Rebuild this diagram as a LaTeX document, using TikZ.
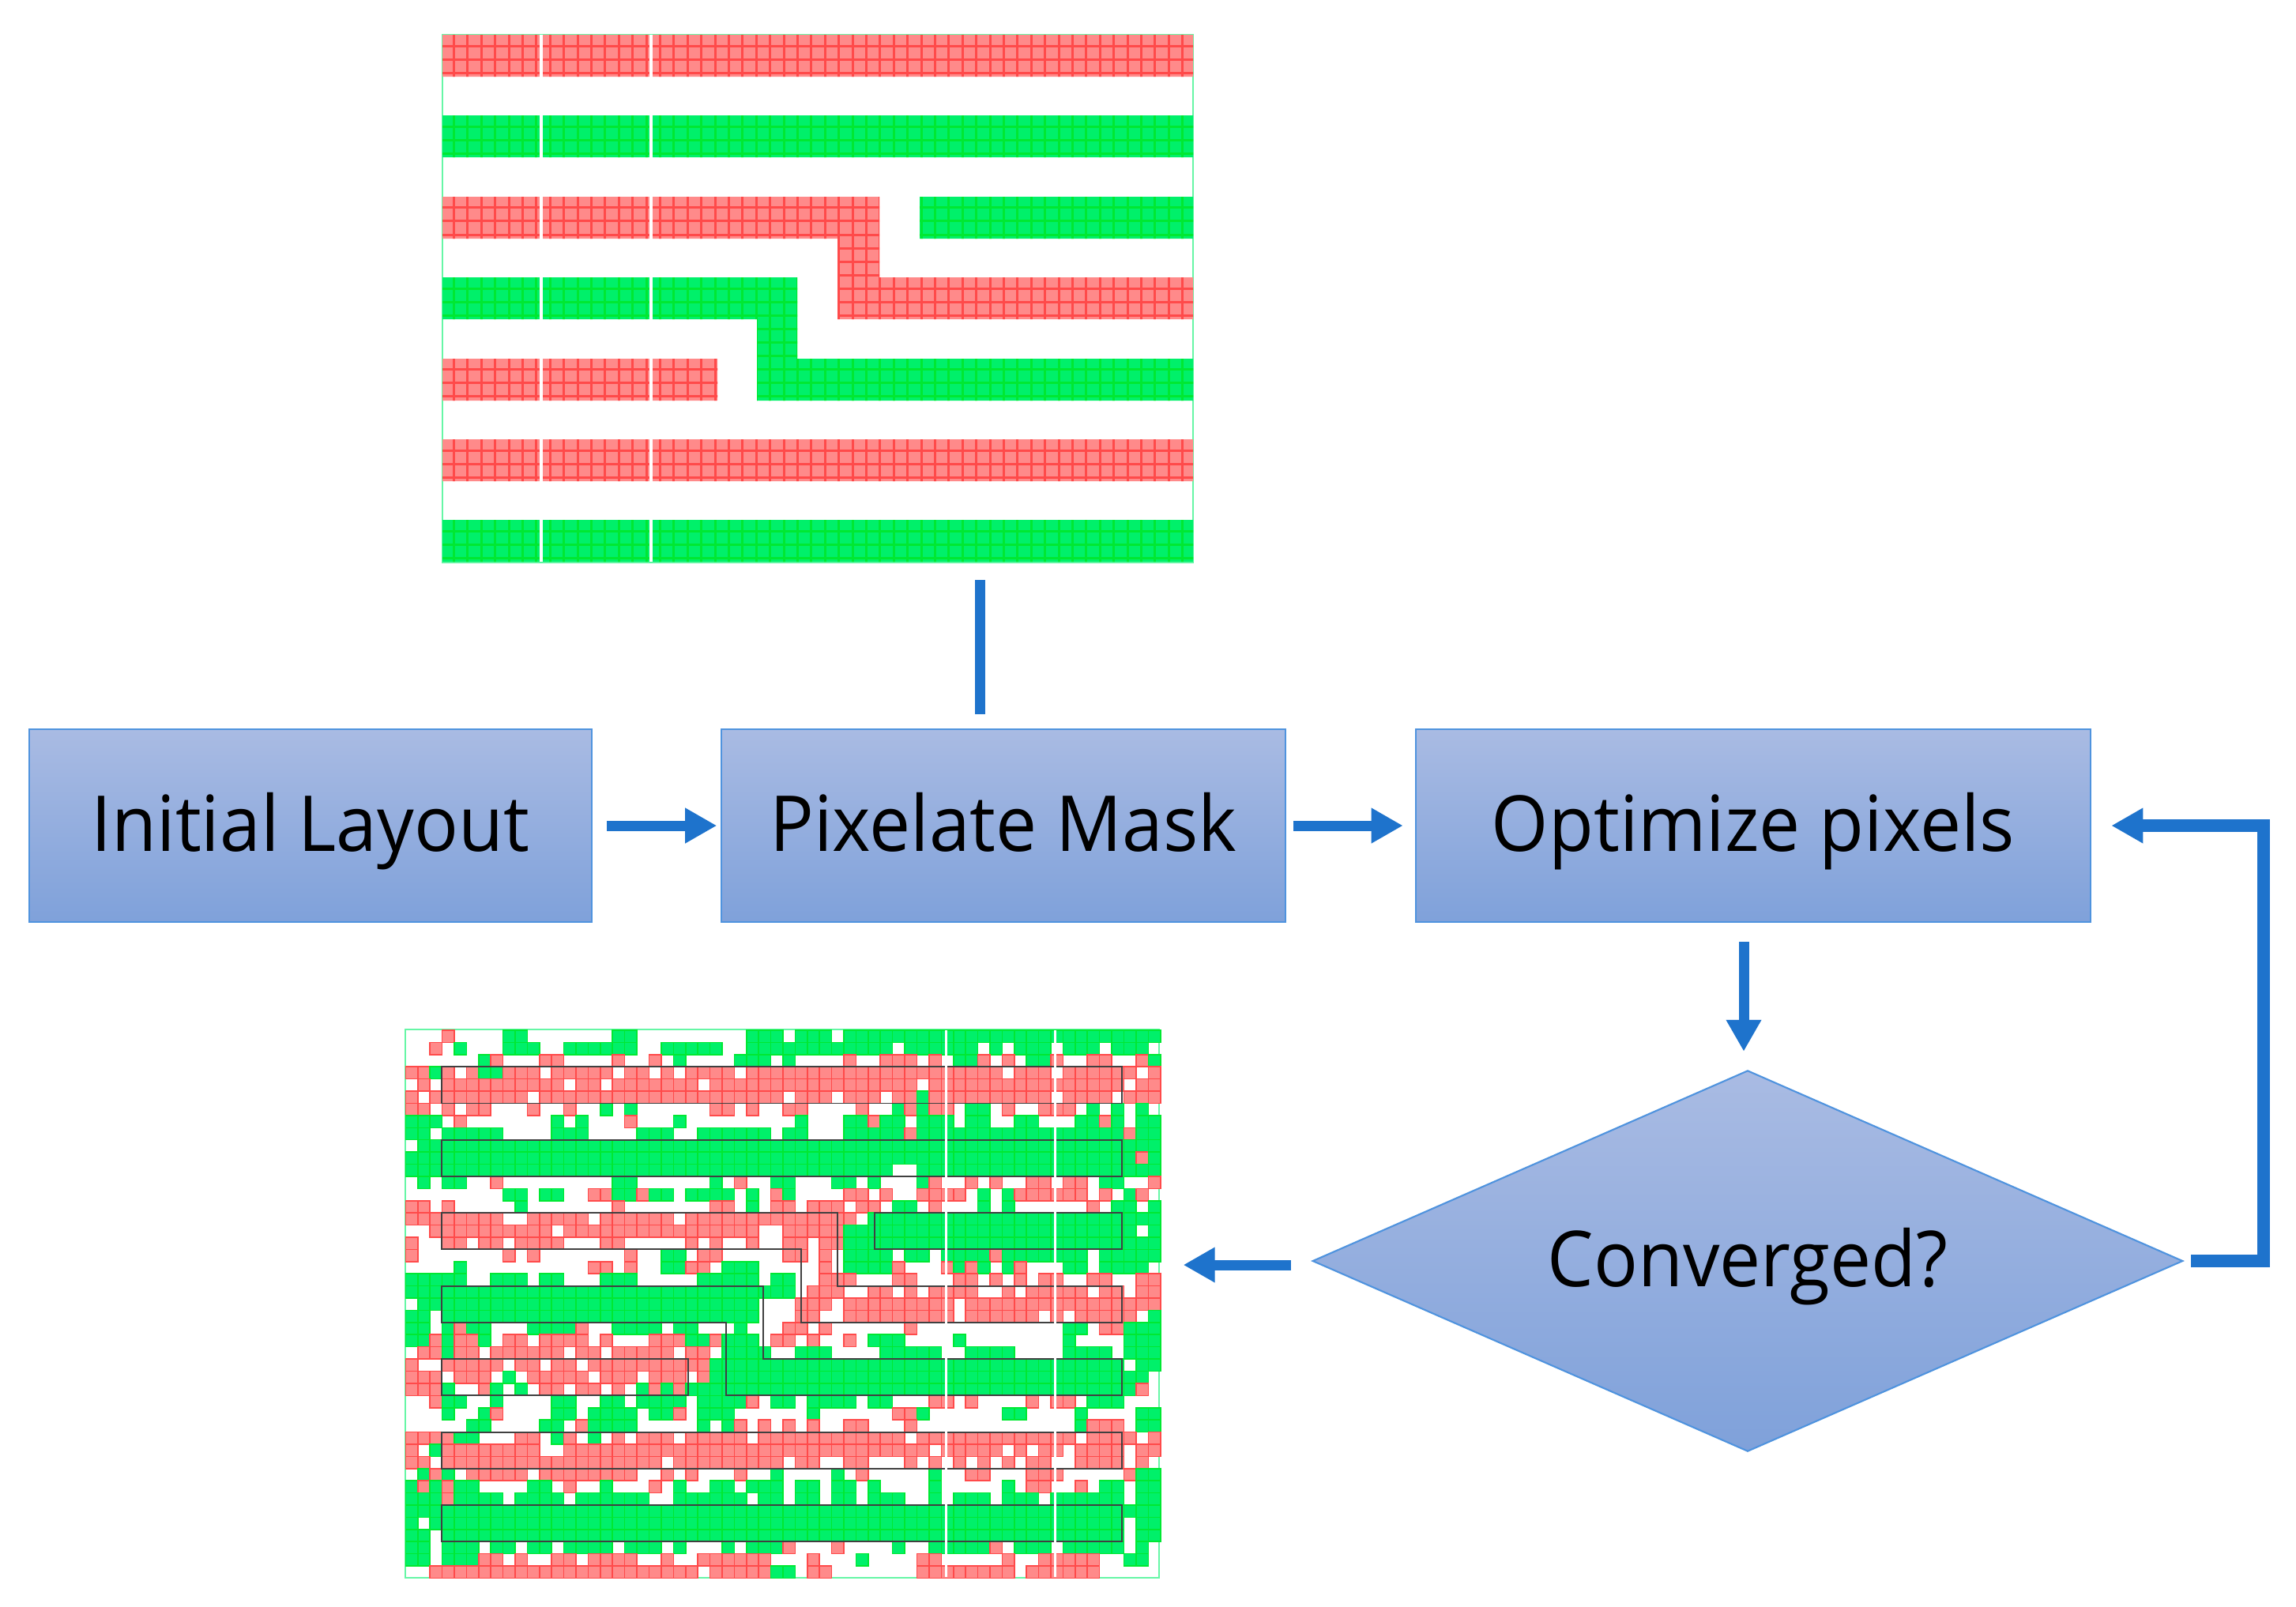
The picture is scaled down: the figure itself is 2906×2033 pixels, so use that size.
\documentclass[tikz,border=0pt]{standalone}
\usepackage{fontspec}
\setmainfont{Open Sans}[FakeStretch=0.95]
\usetikzlibrary{arrows.meta,shapes.geometric}

\definecolor{boxtop}{HTML}{A9BBE3}
\definecolor{boxbottom}{HTML}{7FA1DA}
\definecolor{boxedge}{HTML}{4F93DE}
\definecolor{flowblue}{HTML}{1E73CC}
\definecolor{cellred}{HTML}{FF8A8A}
\definecolor{linered}{HTML}{FF4A4A}
\definecolor{cellgreen}{HTML}{00F06A}
\definecolor{linegreen}{HTML}{00E832}

\tikzset{
  stagebox/.style={draw=boxedge, line width=0.6pt, top color=boxtop, bottom color=boxbottom, inner sep=0pt, text height=0.84cm, text depth=0.2cm, font=\fontsize{27.8}{30}\selectfont},
  flowline/.style={draw=flowblue, line width=0.13cm},
  flowarrow/.style={flowline, -{Triangle[length=0.4cm,width=0.42cm]}},
  imageframe/.style={draw=cellgreen!60, line width=0.5pt, inner sep=0pt},
  redcell/.style={fill=cellred, draw=linered, line width=0.45pt},
  greencell/.style={fill=cellgreen, draw=linegreen, line width=0.45pt},
  wireoutline/.style={draw=black!75, line width=0.55pt}
}

\newcount\cellcol
\def\scanpixel#1{%
  \ifx#1;\let\nextpixel\relax\else
    \ifx#1r\path[redcell] (\the\cellcol,\rowindex) rectangle ++(1,1);\fi
    \ifx#1g\path[greencell] (\the\cellcol,\rowindex) rectangle ++(1,1);\fi
    \advance\cellcol by 1
    \let\nextpixel\scanpixel
  \fi\nextpixel}

\def\redwires{(560,44) rectangle (1510,97) (560,249) rectangle (1113,302) (1060,249) rectangle (1113,404) (1060,351) rectangle (1510,404) (560,454) rectangle (908,507) (560,556) rectangle (1510,609)}
\def\greenwires{(560,146) rectangle (1510,199) (1164,249) rectangle (1510,302) (560,351) rectangle (1009,404) (958,351) rectangle (1009,507) (958,454) rectangle (1510,507) (560,658) rectangle (1510,711)}
\def\maskgrid#1{%
  \foreach \gx in {0,...,54} \draw[#1, line width=0.03cm] ({557+17.4*\gx},40) -- ++(0,680);
  \foreach \gy in {0,...,39} \draw[#1, line width=0.03cm] (557,{41+17.07*\gy}) -- ++(960,0);}

\begin{document}
\begin{tikzpicture}[x=0.01cm,y=-0.01cm]
    \useasboundingbox (0,0) rectangle (2906,2033);

    \node[imageframe, minimum width=9.5cm, minimum height=6.68cm] (maskimg) at (1035,378) {};
    \begin{scope}
      \clip \redwires;
      \fill[cellred] (556,40) rectangle (1514,715);
      \maskgrid{linered}
    \end{scope}
    \begin{scope}
      \clip \greenwires;
      \fill[cellgreen] (556,40) rectangle (1514,715);
      \maskgrid{linegreen}
    \end{scope}
    \draw[white, line width=0.04cm] (685,44) -- (685,711);
    \draw[white, line width=0.04cm] (824,44) -- (824,711);

    \node[stagebox, minimum width=7.12cm, minimum height=2.44cm] (initial) at (393,1045) {Initial Layout};
    \node[stagebox, minimum width=7.13cm, minimum height=2.44cm] (pixelate) at (1270,1045) {Pixelate Mask};
    \node[stagebox, minimum width=8.54cm, minimum height=2.44cm] (optimize) at (2219,1045) {Optimize pixels};
    \node[stagebox, shape=diamond, shape aspect=2.284, minimum width=11.01cm, minimum height=4.82cm] (converged) at (2212,1596) {Converged?};

    \node[imageframe, minimum width=9.53cm, minimum height=6.93cm] (resultimg) at (990,1650) {};
    \begin{scope}[shift={(513.3,1304)},x=0.154cm,y=-0.154cm]
      \foreach \rowleft/\rowright [count=\rowcount] in {
        {...r....gg.......gg.........ggg}/{.ggg.gggggggggggggggggggggggggg},
        {..r.g...ggg..gggggg..ggggg..ggg}/{ggggggggg.gggggg.g.ggg.ggg.ggg.},
        {......gr...rr....r..r.g....ggg.}/{g....r..rrr.r.ggr.r.ggr..rr..rg},
        {rrgr.rggrrr.rrrrr.rr.r.rrrr.rrr}/{rrrrrrrrrrrrrrrrrr.rrr.rrrrrr.r},
        {.r.rrrrrrrrrr.rr.rrrrrrr.rrrrrr}/{rrrrrrrrrrr.rrrrrrrrrrrrrrrr.rr},
        {r.rrrrrrrr.rrrrrrrrrrrrrrrrrrrr}/{.rrr.rrr.rrgrrrrrrrrrr.rrrr.rrr},
        {rr.r.rr...r..r..g.g......rr.r..}/{rr....r..grgrr.gg.r..rrr.g.g.g.},
        {ggg.r.......g.g...r...g........}/{.g...ggrgg.ggg.gg..gg...ggrg.gg},
        {gg.ggggg....ggg....ggg..gggggg.}/{gg...gggggrgggggggggggggggggrgg},
        {.gggggggggggggggggggggggggggggg}/{ggggggggggggggggggggggggggggggg},
        {ggggggggggggggggggggggggggggggg}/{gggggggggggggggggggggggggggggrg},
        {ggggggggggggggggggggggggggggggg}/{ggggggggg..gggggggggggggggggggg},
        {.g.gg..r.........gg......g.r..g}/{g...gg.g...gr..r.r..rr.rr.gg..r},
        {........gg.gg..rrggrgg.gggg.g.r}/{g....rr.r..rrrr.g.grrrrrr.r.gr.},
        {rr.r.....g.......r.......rr.g.r}/{r.rrr.rr.gg.r...g.g......r.gg.g},
        {rrrrrrrr..rrrrr.rrrrrr.rrrrrrrr}/{rrrrrr.gggggggggggggggggggggggg},
        {..rrrrrrrrrr.rrrrrrrrrrrrrrrr..}/{rrrrrgggggggggggggggggggggggg.g},
        {r..rr.rr.rrrr...rr.....r.r..r..}/{rr.rrgggggggggggggggggggggggggg},
        {r.......r.r.......r..gg.rr.....}/{rr.r.gggg.gg.ggggrggggggg.ggggg},
        {....g..........rr.r..ggrr.ggg..}/{...r.ggggr...rgrg.gr...gg.gggg.},
        {ggggg..ggg.gg...ggg.....ggggg.g}/{g..rrr...rr...rr.r.r.rr..rr..rr},
        {ggggggggggggggggggggggggggggggg}/{g.rrr..rr.r.rrrr..r.rrrrr.rr.rr},
        {.gggggggggggggggggggggggggggg..}/{.rrr.rrrrrrrrr.rrrrrrrrrrrrrrrr},
        {gg.gggggggggggggggggggggggggg..}/{.rr..rrrrrrrrr.rrrrrr.r.rrrrr.g},
        {gg.grgg...ggggr..gggg.gg...g...}/{rr.r......r............gg.rrggg},
        {ggrgrrg.rr.rrrr.r...rrrggrggg.r}/{r.r..r.ggg....g........g....ggg},
        {.rrgrr.rrrrrr.rr.rrrrr.rr.gggg.}/{.ggg....ggggg..gggg....gggg.ggg},
        {r..rrrrr.rr.rr.rrrrrrrrrrgggggg}/{gggggggggggggggggggggggggggg.gg},
        {rrr.rrr.g.rrrrr.rrr.rrr.rgggggg}/{gggggggggggggggggggggggggggggg.},
        {rrrg..rg.g.rr.rr.r.grgrgggggggg}/{gggggggggggggggggggggggggggggr.},
        {..rgg..g....gg..gg.gggg.ggggr.g}/{g.gggg.gg...rr.r....r.rr.ggg...},
        {...g..gr....gg.gggg.ggr.ggg....}/{..g......rrg......gg....g....gg},
        {.....gg....gg.rgggg.....g.gr.r.}/{r.r..rr...r.............grrr.gg},
        {rrrrgg...rr.gr.g.r.rrr.rrrrr.rr}/{rrrrrrrrrr.rrrrrrrrrrrrr.rrrr.r},
        {r.grrrrrrrr..rrrrrrrrrrrrrrrrrr}/{rrrrrrrrrrrr.rrrrr.r.rr.rrrr.rr},
        {rr.rrrrrrrrrrrrrrrrrr.rrrrrrrrr}/{.rr..rr...r.r.r.r.r.rr..rrrr.r.},
        {.grg.rrrrr.rrrrrrrr..r.r...r..g}/{....g.r.....g..rr...rrr.....rgg},
        {grgrgg....gg.r..g...r.g..gg.ggg}/{.gg.gg.g....g.....g.rr..r.gg.gg},
        {gggrgggg.gggg.gggggg..gggggg.gg}/{.gg.gg.ggg..g.ggg.ggg.gggggg.gg},
        {ggggggggggggggggggggggggggggggg}/{ggggggggggggggggggggggggggggggg},
        {g.ggggggggggggggggggggggggggggg}/{gggggggggggggggggggggggggggg.gg},
        {gg.gggggggggggggggggggggggggggg}/{gggggggggggggggggggggggggggg.gg},
        {gg.ggg.gg.gg.gggg.ggg.g...g.ggg}/{r...r....g..gggggr.ggg.ggggg.g.},
        {gg.gggrr.r..rr.rrrr..r..rrrrrr.}/{..r...g....rr.....r..rrrrr..gg.},
        {..rrrrrrrrrrrrrrrrrrrrrr.rrrrrg}/{g.rr.......rrrrrrrr.rrrrrr.....}} {
        \pgfmathtruncatemacro{\rowindex}{\rowcount-1}
        \cellcol=0 \expandafter\scanpixel\rowleft;
        \cellcol=31 \expandafter\scanpixel\rowright;
      }
      \draw[wireoutline] (2.95,3) rectangle (58.85,6);
      \draw[wireoutline] (2.95,9) rectangle (58.85,12);
      \draw[wireoutline] (2.95,15) -- (35.5,15) -- (35.5,21) -- (58.85,21) -- (58.85,24) -- (32.5,24) -- (32.5,18) -- (2.95,18) -- cycle;
      \draw[wireoutline] (38.5,15) rectangle (58.85,18);
      \draw[wireoutline] (2.95,21) -- (29.4,21) -- (29.4,27) -- (58.85,27) -- (58.85,30) -- (26.3,30) -- (26.3,24) -- (2.95,24) -- cycle;
      \draw[wireoutline] (2.95,27) rectangle (23.2,30);
      \draw[wireoutline] (2.95,33) rectangle (58.85,36);
      \draw[wireoutline] (2.95,39) rectangle (58.85,42);
    \end{scope}
    \draw[white, line width=0.03cm] (1197,1304) -- (1197,1996);
    \draw[white, line width=0.03cm] (1335,1304) -- (1335,1996);

    \coordinate (masktap) at (1240,734);
    \coordinate (dropin) at (2207,1192);
    \coordinate (loopcorner) at (2865,1045);
    \draw[flowline] (masktap) -- (masktap |- pixelate.north) [shorten >=0.18cm];
    \draw[flowarrow, shorten <=0.18cm, shorten >=0.05cm] (initial) -- (pixelate);
    \draw[flowarrow, shorten <=0.09cm, shorten >=0.15cm] (pixelate) -- (optimize);
    \draw[flowarrow, shorten >=0.23cm] (dropin) -- (dropin |- converged.north);
    \draw[flowarrow, shorten <=0.26cm, shorten >=0.3cm] ([yshift=-0.05cm]converged.west) -- ([yshift=-0.05cm]converged.west -| resultimg.east);
    \draw[flowarrow, line width=0.16cm, shorten <=0.09cm, shorten >=0.25cm] (converged.east) -| (loopcorner) -- (optimize.east);
\end{tikzpicture}
\end{document}
